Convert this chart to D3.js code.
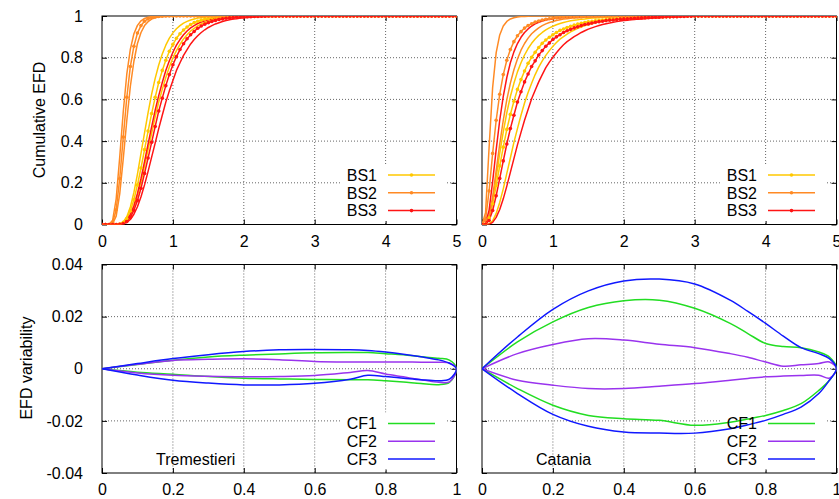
<!DOCTYPE html>
<html>
<head>
<meta charset="utf-8">
<script src="https://cdnjs.cloudflare.com/ajax/libs/d3/7.8.5/d3.min.js"></script>
<style>
body { margin: 0; background: #fff; }
svg { display: block; font-family: "Liberation Sans", Arial, sans-serif; }
</style>
</head>
<body>
<svg id="chart"></svg>
<script>
// cumulative EFD curves, sampled every 0.05 from 0 to 5
var efdStep = 0.05;

// Tremestieri
var tremBS1Up = [
  0,0,0,0,0,.003,.012,.037,.084,.154,
  .242,.341,.44,.537,.625,.701,.765,.818,.86,.894,
  .919,.939,.954,.966,.974,.981,.986,.99,.992,.994,
  .996,.997,.998,.998,.999,1,1,1,1,1,
  1,1,1,1,1,1,1,1,1,1,
  1,1,1,1,1,1,1,1,1,1,
  1,1,1,1,1,1,1,1,1,1,
  1,1,1,1,1,1,1,1,1,1,
  1,1,1,1,1,1,1,1,1,1,
  1,1,1,1,1,1,1,1,1,1,
  1];
var tremBS1 = [
  0,0,0,0,0,.002,.01,.029,.065,.119,
  .19,.271,.359,.448,.532,.61,.681,.739,.788,.831,
  .864,.893,.915,.933,.947,.959,.968,.975,.98,.985,
  .988,.991,.993,.994,.996,.997,.997,.998,.998,.999,
  .999,1,1,1,1,1,1,1,1,1,
  1,1,1,1,1,1,1,1,1,1,
  1,1,1,1,1,1,1,1,1,1,
  1,1,1,1,1,1,1,1,1,1,
  1,1,1,1,1,1,1,1,1,1,
  1,1,1,1,1,1,1,1,1,1,
  1];
var tremBS1Dn = [
  0,0,0,0,0,.001,.006,.019,.044,.084,
  .138,.203,.281,.359,.437,.516,.587,.648,.705,.755,
  .799,.834,.864,.89,.91,.928,.941,.953,.962,.969,
  .975,.98,.984,.987,.99,.992,.993,.994,.996,.996,
  .997,.998,.998,.998,.999,.999,1,1,1,1,
  1,1,1,1,1,1,1,1,1,1,
  1,1,1,1,1,1,1,1,1,1,
  1,1,1,1,1,1,1,1,1,1,
  1,1,1,1,1,1,1,1,1,1,
  1,1,1,1,1,1,1,1,1,1,
  1];
var tremBS2Up = [
  0,0,0,.02,.123,.323,.542,.722,.841,.915,
  .955,.977,.988,.994,.997,.998,.999,1,1,1,
  1,1,1,1,1,1,1,1,1,1,
  1,1,1,1,1,1,1,1,1,1,
  1,1,1,1,1,1,1,1,1,1,
  1,1,1,1,1,1,1,1,1,1,
  1,1,1,1,1,1,1,1,1,1,
  1,1,1,1,1,1,1,1,1,1,
  1,1,1,1,1,1,1,1,1,1,
  1,1,1,1,1,1,1,1,1,1,
  1];
var tremBS2 = [
  0,0,0,.009,.071,.22,.42,.61,.758,.855,
  .918,.954,.975,.986,.993,.996,.998,.999,1,1,
  1,1,1,1,1,1,1,1,1,1,
  1,1,1,1,1,1,1,1,1,1,
  1,1,1,1,1,1,1,1,1,1,
  1,1,1,1,1,1,1,1,1,1,
  1,1,1,1,1,1,1,1,1,1,
  1,1,1,1,1,1,1,1,1,1,
  1,1,1,1,1,1,1,1,1,1,
  1,1,1,1,1,1,1,1,1,1,
  1];
var tremBS2Dn = [
  0,0,0,.004,.04,.147,.316,.5,.663,.783,
  .868,.921,.954,.973,.985,.991,.995,.997,.998,.999,
  1,1,1,1,1,1,1,1,1,1,
  1,1,1,1,1,1,1,1,1,1,
  1,1,1,1,1,1,1,1,1,1,
  1,1,1,1,1,1,1,1,1,1,
  1,1,1,1,1,1,1,1,1,1,
  1,1,1,1,1,1,1,1,1,1,
  1,1,1,1,1,1,1,1,1,1,
  1,1,1,1,1,1,1,1,1,1,
  1];
var tremBS3Up = [
  0,0,0,0,0,.001,.006,.02,.047,.09,
  .149,.221,.302,.386,.468,.548,.618,.681,.739,.785,
  .826,.86,.887,.91,.928,.943,.954,.964,.971,.977,
  .982,.986,.989,.991,.993,.994,.996,.997,.997,.998,
  .998,.999,.999,1,1,1,1,1,1,1,
  1,1,1,1,1,1,1,1,1,1,
  1,1,1,1,1,1,1,1,1,1,
  1,1,1,1,1,1,1,1,1,1,
  1,1,1,1,1,1,1,1,1,1,
  1,1,1,1,1,1,1,1,1,1,
  1];
var tremBS3 = [
  0,0,0,0,0,.001,.004,.014,.034,.068,
  .115,.174,.245,.319,.394,.47,.544,.606,.666,.719,
  .766,.805,.839,.867,.891,.91,.926,.941,.952,.961,
  .968,.974,.979,.983,.986,.989,.991,.992,.994,.995,
  .996,.997,.997,.998,.998,.999,.999,1,1,1,
  1,1,1,1,1,1,1,1,1,1,
  1,1,1,1,1,1,1,1,1,1,
  1,1,1,1,1,1,1,1,1,1,
  1,1,1,1,1,1,1,1,1,1,
  1,1,1,1,1,1,1,1,1,1,
  1];
var tremBS3Dn = [
  0,0,0,0,0,0,.003,.01,.024,.049,
  .085,.133,.19,.255,.323,.39,.46,.524,.587,.641,
  .691,.739,.776,.811,.839,.866,.887,.905,.921,.934,
  .945,.954,.962,.968,.974,.978,.982,.985,.987,.99,
  .991,.993,.994,.995,.996,.996,.997,.998,.998,.998,
  .999,.999,1,1,1,1,1,1,1,1,
  1,1,1,1,1,1,1,1,1,1,
  1,1,1,1,1,1,1,1,1,1,
  1,1,1,1,1,1,1,1,1,1,
  1,1,1,1,1,1,1,1,1,1,
  1];

// Catania
var catBS1Up = [
  0,.002,.038,.119,.227,.341,.444,.536,.614,.677,
  .732,.776,.813,.844,.869,.89,.907,.921,.933,.943,
  .951,.958,.964,.969,.973,.977,.98,.982,.985,.986,
  .988,.99,.991,.992,.993,.994,.994,.995,.995,.996,
  .996,.997,.997,.997,.998,.998,.998,.998,.998,.999,
  .999,.999,.999,.999,1,1,1,1,1,1,
  1,1,1,1,1,1,1,1,1,1,
  1,1,1,1,1,1,1,1,1,1,
  1,1,1,1,1,1,1,1,1,1,
  1,1,1,1,1,1,1,1,1,1,
  1];
var catBS1 = [
  0,.002,.032,.099,.187,.281,.371,.456,.528,.591,
  .648,.695,.736,.773,.802,.826,.849,.869,.885,.898,
  .91,.921,.931,.938,.945,.951,.956,.961,.965,.969,
  .972,.974,.977,.979,.981,.983,.985,.986,.987,.988,
  .99,.99,.991,.992,.993,.993,.994,.994,.995,.995,
  .996,.996,.997,.997,.998,.998,.999,.999,1,1,
  1,1,1,1,1,1,1,1,1,1,
  1,1,1,1,1,1,1,1,1,1,
  1,1,1,1,1,1,1,1,1,1,
  1,1,1,1,1,1,1,1,1,1,
  1];
var catBS1Dn = [
  0,0,.003,.018,.053,.106,.171,.245,.319,.394,
  .46,.524,.583,.633,.677,.719,.755,.785,.811,.834,
  .855,.873,.889,.901,.913,.924,.933,.941,.947,.954,
  .958,.963,.967,.971,.974,.977,.979,.981,.983,.985,
  .986,.988,.989,.99,.991,.992,.993,.993,.994,.995,
  .995,.996,.996,.997,.997,.998,.998,.999,.999,1,
  1,1,1,1,1,1,1,1,1,1,
  1,1,1,1,1,1,1,1,1,1,
  1,1,1,1,1,1,1,1,1,1,
  1,1,1,1,1,1,1,1,1,1,
  1];
var catBS2Up = [
  0,.056,.369,.657,.824,.909,.952,.974,.986,.992,
  .995,.997,.998,.999,1,1,1,1,1,1,
  1,1,1,1,1,1,1,1,1,1,
  1,1,1,1,1,1,1,1,1,1,
  1,1,1,1,1,1,1,1,1,1,
  1,1,1,1,1,1,1,1,1,1,
  1,1,1,1,1,1,1,1,1,1,
  1,1,1,1,1,1,1,1,1,1,
  1,1,1,1,1,1,1,1,1,1,
  1,1,1,1,1,1,1,1,1,1,
  1];
var catBS2 = [
  0,.024,.161,.341,.5,.625,.719,.788,.839,.877,
  .905,.925,.942,.954,.963,.971,.976,.981,.984,.987,
  .989,.991,.993,.994,.995,.996,.996,.997,.997,.998,
  .998,.998,.998,.999,.999,.999,.999,.999,1,1,
  1,1,1,1,1,1,1,1,1,1,
  1,1,1,1,1,1,1,1,1,1,
  1,1,1,1,1,1,1,1,1,1,
  1,1,1,1,1,1,1,1,1,1,
  1,1,1,1,1,1,1,1,1,1,
  1,1,1,1,1,1,1,1,1,1,
  1];
var catBS2Dn = [
  0,.002,.038,.131,.258,.386,.5,.599,.678,.742,
  .794,.836,.868,.894,.915,.93,.943,.954,.962,.969,
  .974,.978,.982,.985,.987,.989,.991,.992,.993,.994,
  .995,.996,.997,.997,.997,.998,.998,.998,.999,.999,
  .999,.999,.999,1,1,1,1,1,1,1,
  1,1,1,1,1,1,1,1,1,1,
  1,1,1,1,1,1,1,1,1,1,
  1,1,1,1,1,1,1,1,1,1,
  1,1,1,1,1,1,1,1,1,1,
  1,1,1,1,1,1,1,1,1,1,
  1];
var catBS3Up = [
  0,.005,.069,.206,.359,.5,.614,.705,.776,.828,
  .868,.898,.921,.938,.952,.962,.97,.976,.981,.984,
  .987,.99,.992,.993,.994,.995,.996,.997,.997,.998,
  .998,.998,.999,.999,.999,.999,.999,1,1,1,
  1,1,1,1,1,1,1,1,1,1,
  1,1,1,1,1,1,1,1,1,1,
  1,1,1,1,1,1,1,1,1,1,
  1,1,1,1,1,1,1,1,1,1,
  1,1,1,1,1,1,1,1,1,1,
  1,1,1,1,1,1,1,1,1,1,
  1];
var catBS3 = [
  0,.001,.019,.067,.138,.221,.305,.386,.46,.524,
  .587,.637,.684,.722,.758,.785,.813,.834,.855,.871,
  .887,.9,.91,.921,.929,.936,.943,.948,.954,.959,
  .962,.966,.97,.973,.975,.978,.98,.981,.983,.985,
  .986,.987,.988,.989,.99,.991,.992,.992,.993,.994,
  .994,.995,.996,.996,.997,.997,.998,.998,.999,.999,
  1,1,1,1,1,1,1,1,1,1,
  1,1,1,1,1,1,1,1,1,1,
  1,1,1,1,1,1,1,1,1,1,
  1,1,1,1,1,1,1,1,1,1,
  1];
var catBS3Dn = [
  0,0,.001,.01,.034,.072,.123,.184,.25,.316,
  .382,.442,.5,.552,.603,.644,.684,.719,.752,.779,
  .802,.824,.844,.862,.877,.889,.901,.911,.921,.929,
  .937,.943,.949,.954,.959,.963,.966,.97,.973,.976,
  .978,.98,.982,.983,.985,.986,.987,.989,.99,.991,
  .991,.993,.994,.995,.996,.997,.997,.998,.998,.999,
  .999,1,1,1,1,1,1,1,1,1,
  1,1,1,1,1,1,1,1,1,1,
  1,1,1,1,1,1,1,1,1,1,
  1,1,1,1,1,1,1,1,1,1,
  1];

// EFD variability, upper and lower branch of each loop
var cfX = [0, 0.1, 0.2, 0.3, 0.4, 0.5, 0.6, 0.7, 0.75, 0.8, 0.85, 0.9, 0.95, 0.98, 1];

var tremCF1Up = [0, .0016, .0033, .0045, .0052, .0057, .0061, .0062, .0062, .0058, .0054, .0046, .0040, .0033, 0];
var tremCF1Lo = [0, -.0013, -.0021, -.0030, -.0036, -.0039, -.0041, -.0042, -.0042, -.0046, -.0051, -.0057, -.0061, -.0052, 0];
var tremCF2Up = [0, .0017, .0032, .0036, .0038, .0035, .0028, .0026, .0026, .0026, .0026, .0025, .0025, .0022, 0];
var tremCF2Lo = [0, -.0016, -.0025, -.0029, -.0031, -.0030, -.0026, -.0014, -.0007, -.0020, -.0031, -.0042, -.0052, -.0050, 0];
var tremCF3Up = [0, .0020, .0039, .0054, .0066, .0073, .0074, .0073, .0070, .0064, .0056, .0046, .0034, .0021, 0];
var tremCF3Lo = [0, -.0024, -.0044, -.0055, -.0062, -.0062, -.0056, -.0040, -.0025, -.0030, -.0036, -.0042, -.0046, -.0040, 0];

var catCF1Up = [0, .0103, .0180, .0235, .0261, .0263, .0232, .0174, .0135, .0097, .0085, .0081, .0064, .0045, 0];
var catCF1Lo = [0, -.0076, -.0140, -.0179, -.0192, -.0198, -.0217, -.0205, -.0193, -.0179, -.0160, -.0134, -.0083, -.0044, 0];
var catCF2Up = [0, .0058, .0093, .0115, .0110, .0094, .0081, .0058, .0044, .0026, .0010, .0015, .0020, .0026, 0];
var catCF2Lo = [0, -.0044, -.0063, -.0076, -.0076, -.0067, -.0057, -.0044, -.0037, -.0031, -.0028, -.0026, -.0025, -.0036, 0];
var catCF3Up = [0, .0122, .0228, .0299, .0337, .0344, .0325, .0263, .0220, .0174, .0125, .0081, .0058, .0039, 0];
var catCF3Lo = [0, -.0095, -.0175, -.0221, -.0243, -.0247, -.0247, -.0230, -.0215, -.0198, -.0175, -.0147, -.0095, -.0044, 0];

var efdTicks = [0, 1, 2, 3, 4, 5];
var cumTicks = [0, 0.2, 0.4, 0.6, 0.8, 1];
var varXTicks = [0, 0.2, 0.4, 0.6, 0.8, 1];
var varYTicks = [-0.04, -0.02, 0, 0.02, 0.04];

var bsNames = ["BS1", "BS2", "BS3"];
var cfNames = ["CF1", "CF2", "CF3"];
var siteNames = ["Tremestieri", "Catania"];
var bsColors = ["#ffc800", "#ff8a24", "#ff1414"];
var cfColors = ["#22dd22", "#9933ee", "#1018ff"];

var svgWidth = 839, svgHeight = 499;
var svg = d3.select("#chart")
    .attr("width", svgWidth)
    .attr("height", svgHeight);

var pw = 354.5, ph = 208.5;
var cols = [102, 482];
var rows = [16, 264.5];

function makePanel(left, top, xDomain, yDomain, xTicks, yTicks, showY, id) {
    var g = svg.append("g")
        .attr("transform", "translate(" + left + "," + top + ")");
    var x = d3.scaleLinear().domain(xDomain).range([0, pw]);
    var y = d3.scaleLinear().domain(yDomain).range([ph, 0]);

    g.append("clipPath").attr("id", id)
        .append("rect").attr("width", pw).attr("height", ph);

    // dotted grid
    g.append("g").selectAll("line")
        .data(xTicks.slice(1, -1))
        .enter().append("line")
        .attr("x1", function(d) { return x(d); })
        .attr("x2", function(d) { return x(d); })
        .attr("y1", 0).attr("y2", ph)
        .attr("stroke", "#666").attr("stroke-dasharray", "1,2");
    g.append("g").selectAll("line")
        .data(yTicks.slice(1, -1))
        .enter().append("line")
        .attr("y1", function(d) { return y(d); })
        .attr("y2", function(d) { return y(d); })
        .attr("x1", 0).attr("x2", pw)
        .attr("stroke", "#666").attr("stroke-dasharray", "1,2");

    var fmt = function(d) { return String(d); };
    var ax = [
        g.append("g").attr("transform", "translate(0," + ph + ")")
            .call(d3.axisBottom(x).tickValues(xTicks).tickSize(-5).tickPadding(11).tickFormat(fmt)),
        g.append("g")
            .call(d3.axisTop(x).tickValues(xTicks).tickSize(-5).tickFormat("")),
        g.append("g")
            .call(d3.axisLeft(y).tickValues(yTicks).tickSize(-5).tickPadding(19).tickFormat(showY ? fmt : "")),
        g.append("g").attr("transform", "translate(" + pw + ",0)")
            .call(d3.axisRight(y).tickValues(yTicks).tickSize(-5).tickFormat(""))
    ];
    ax.forEach(function(a) {
        a.select(".domain").remove();
        a.attr("font-family", null).attr("font-size", 16);
        a.selectAll("text").attr("fill", "#000");
    });

    g.append("rect")
        .attr("width", pw).attr("height", ph)
        .attr("fill", "none").attr("stroke", "#000");

    return { g: g, x: x, y: y, clip: "url(#" + id + ")" };
}

function legendBox(p) {
    p.g.append("rect")
        .attr("x", 238).attr("y", 148)
        .attr("width", 107).attr("height", 57)
        .attr("fill", "#fff");
}

function legendRows(p, names, colors, marked) {
    var lg = p.g.append("g");
    names.forEach(function(name, i) {
        var ry = 159 + i * 17.8;
        lg.append("text")
            .attr("x", 275).attr("y", ry).attr("dy", "0.36em")
            .attr("text-anchor", "end")
            .attr("font-size", 16)
            .text(name);
        lg.append("line")
            .attr("x1", 286).attr("x2", 333)
            .attr("y1", ry).attr("y2", ry)
            .attr("stroke", colors[i]).attr("stroke-width", 1.5);
        if (marked) {
            lg.append("circle")
                .attr("cx", 309.5).attr("cy", ry).attr("r", 1.8)
                .attr("fill", colors[i]);
        }
    });
}

// top: cumulative EFD
var topSets = [
    [[tremBS1Up, tremBS1, tremBS1Dn], [tremBS2Up, tremBS2, tremBS2Dn], [tremBS3Up, tremBS3, tremBS3Dn]],
    [[catBS1Up, catBS1, catBS1Dn], [catBS2Up, catBS2, catBS2Dn], [catBS3Up, catBS3, catBS3Dn]]
];

topSets.forEach(function(set, c) {
    var p = makePanel(cols[c], rows[0], [0, 5], [0, 1], efdTicks, cumTicks, c === 0, "clipTop" + c);
    legendBox(p);
    var line = d3.line()
        .x(function(d, i) { return p.x(i * efdStep); })
        .y(function(d) { return p.y(d); });
    var cg = p.g.append("g").attr("clip-path", p.clip);
    set.forEach(function(group, k) {
        group.forEach(function(vals) {
            cg.append("path")
                .datum(vals)
                .attr("fill", "none")
                .attr("stroke", bsColors[k])
                .attr("stroke-width", 1.5)
                .attr("stroke-linejoin", "round")
                .attr("d", line);
        });
    });
    set.forEach(function(group, k) {
        cg.append("g").selectAll("circle")
            .data(group[1])
            .enter().append("circle")
            .attr("cx", function(d, i) { return p.x(i * efdStep); })
            .attr("cy", function(d) { return p.y(d); })
            .attr("r", 1.8)
            .attr("fill", bsColors[k]);
    });
    legendRows(p, bsNames, bsColors, true);
});

// bottom: EFD variability loops
var bottomSets = [
    [[tremCF1Up, tremCF1Lo], [tremCF2Up, tremCF2Lo], [tremCF3Up, tremCF3Lo]],
    [[catCF1Up, catCF1Lo], [catCF2Up, catCF2Lo], [catCF3Up, catCF3Lo]]
];

bottomSets.forEach(function(set, c) {
    var p = makePanel(cols[c], rows[1], [0, 1], [-0.04, 0.04], varXTicks, varYTicks, c === 0, "clipBot" + c);
    legendBox(p);
    var line = d3.line()
        .x(function(d) { return p.x(d[0]); })
        .y(function(d) { return p.y(d[1]); })
        .curve(d3.curveCatmullRom.alpha(0.5));
    var cg = p.g.append("g").attr("clip-path", p.clip);
    set.forEach(function(pair, k) {
        var pts = cfX.map(function(xv, i) { return [xv, pair[0][i]]; });
        for (var i = cfX.length - 2; i >= 0; i--) {
            pts.push([cfX[i], pair[1][i]]);
        }
        cg.append("path")
            .datum(pts)
            .attr("fill", "none")
            .attr("stroke", cfColors[k])
            .attr("stroke-width", 1.5)
            .attr("stroke-linejoin", "round")
            .attr("d", line);
    });
    legendRows(p, cfNames, cfColors, false);
    p.g.append("text")
        .attr("x", 54).attr("y", 194.6).attr("dy", "0.36em")
        .attr("font-size", 16)
        .text(siteNames[c]);
});

svg.append("text")
    .attr("transform", "translate(39,120) rotate(-90)")
    .attr("dy", "0.36em")
    .attr("text-anchor", "middle")
    .attr("font-size", 16)
    .text("Cumulative EFD");

svg.append("text")
    .attr("transform", "translate(26,368) rotate(-90)")
    .attr("dy", "0.36em")
    .attr("text-anchor", "middle")
    .attr("font-size", 16)
    .text("EFD variability");
</script>
</body>
</html>
